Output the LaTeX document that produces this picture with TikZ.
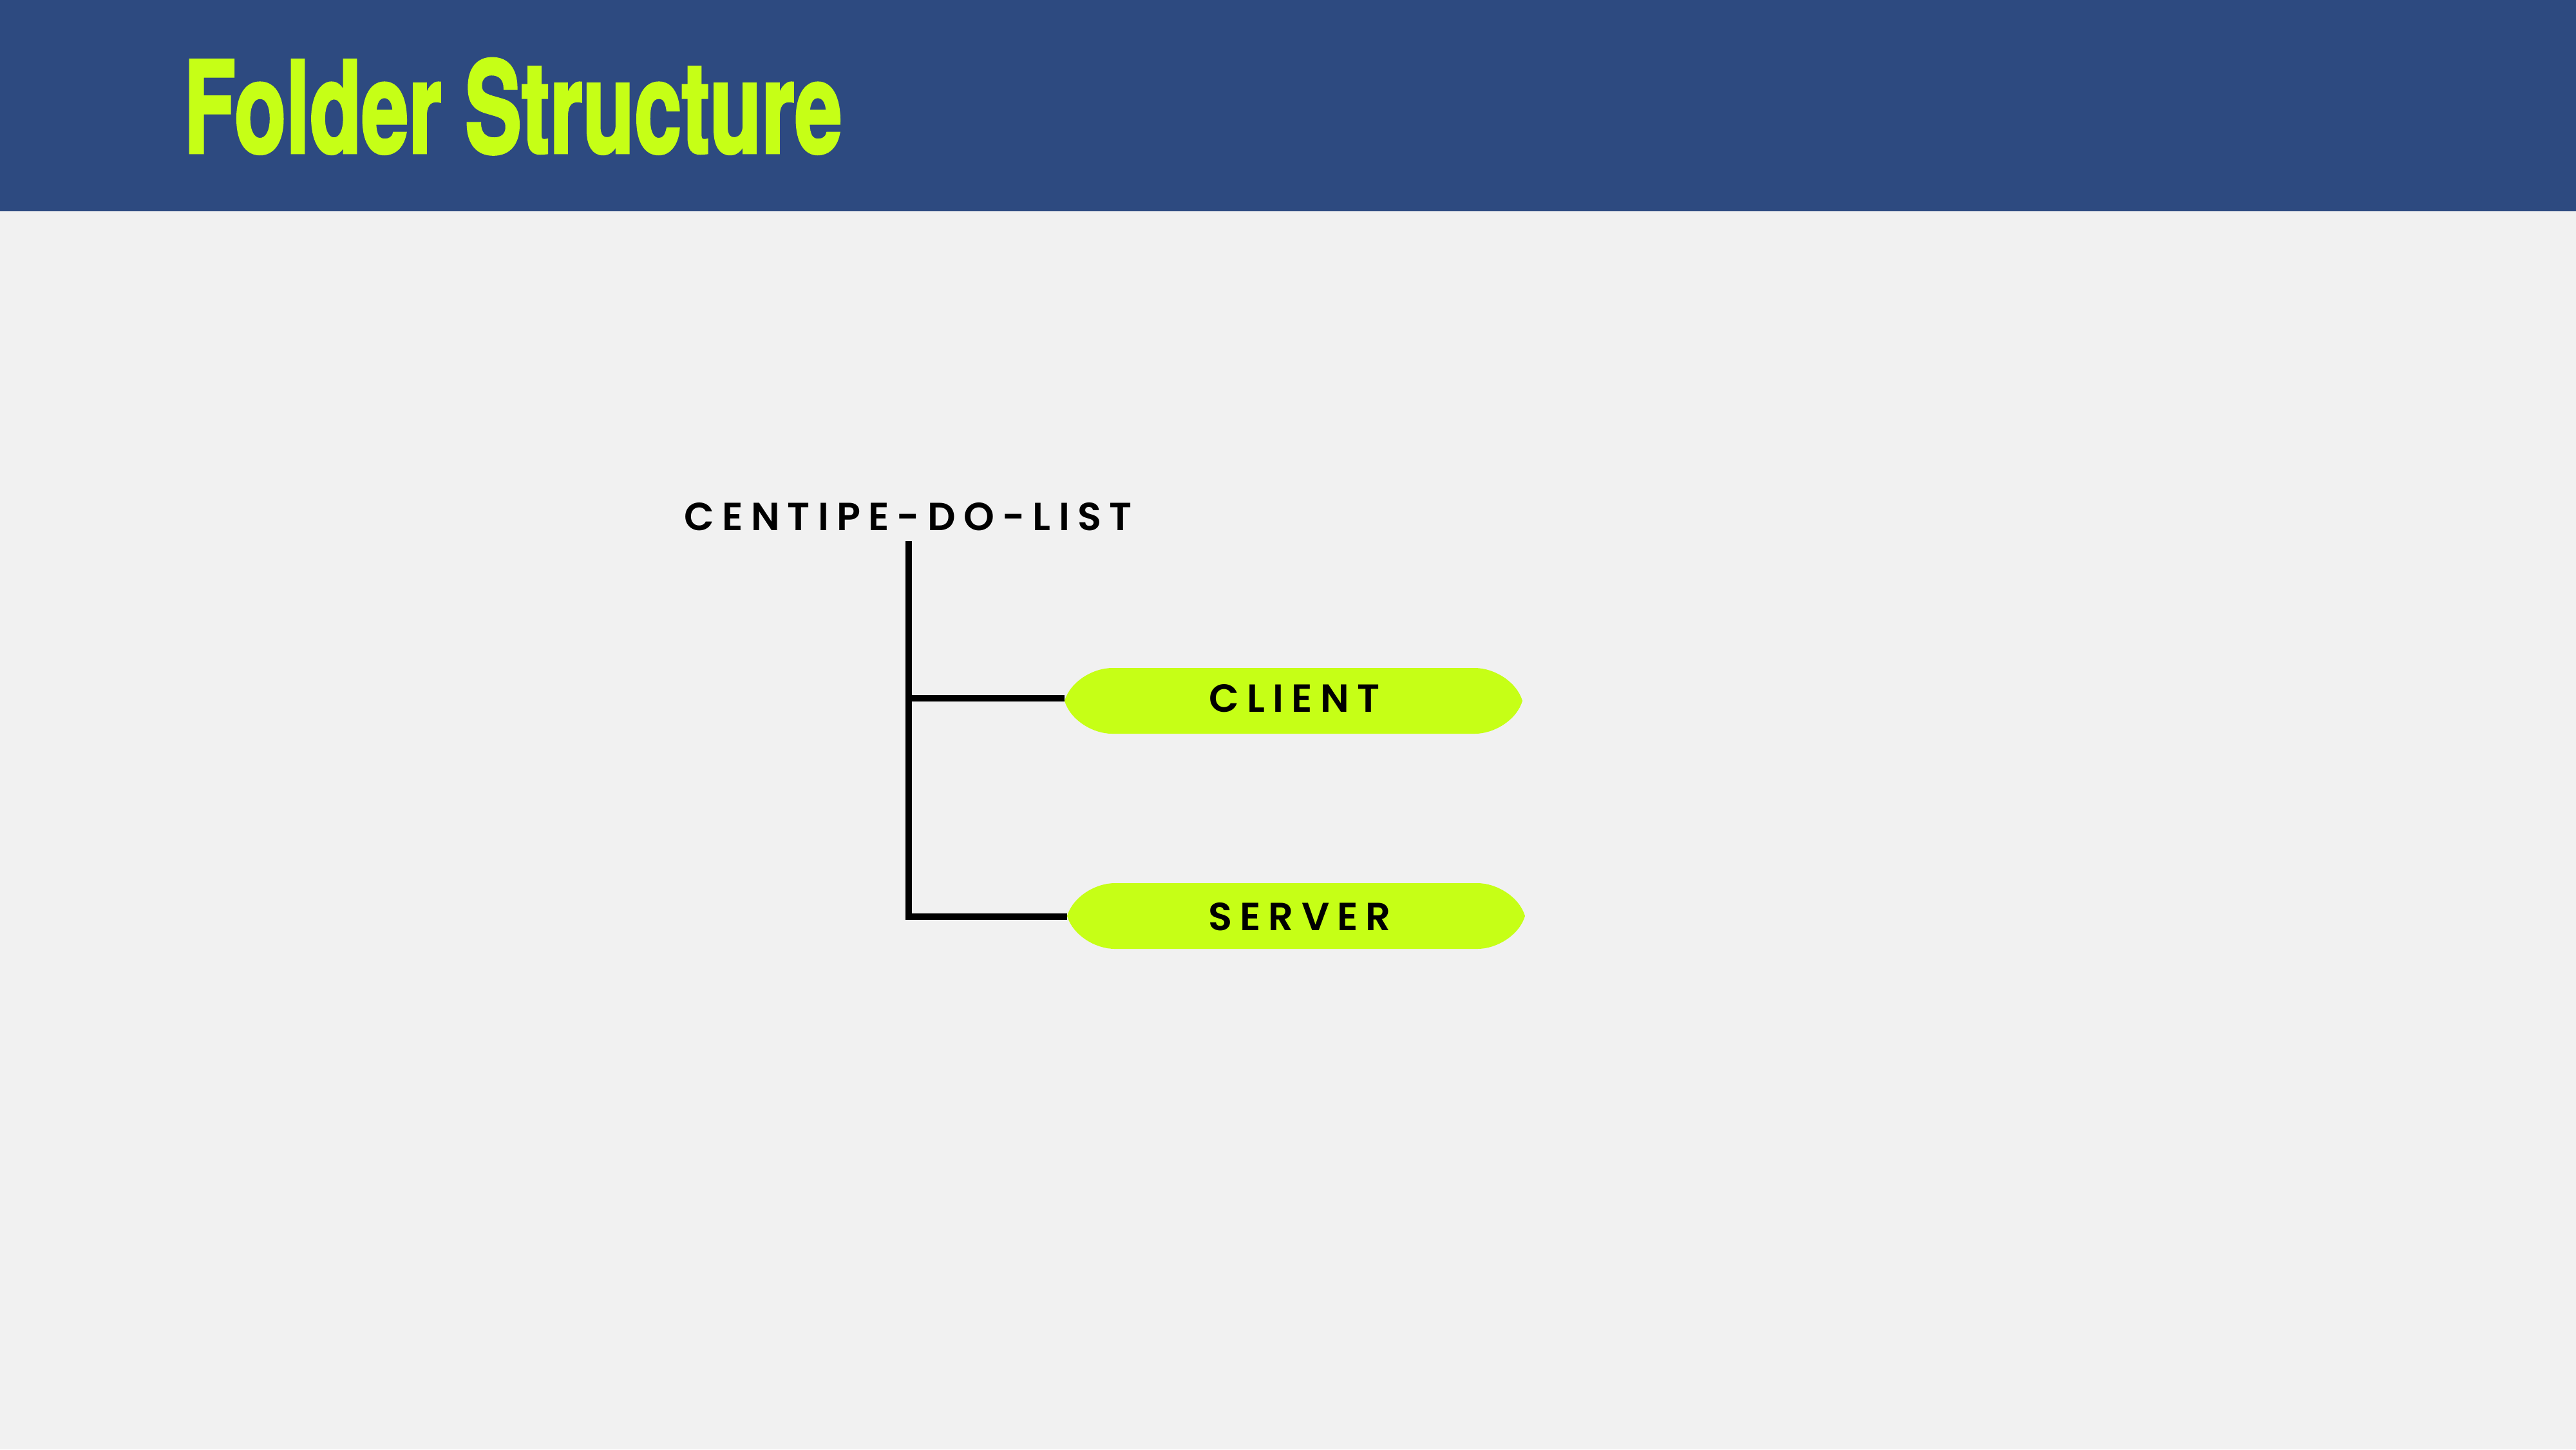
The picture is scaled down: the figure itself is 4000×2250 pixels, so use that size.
\documentclass[tikz,border=0pt]{standalone}
\usepackage{fontspec}
\usetikzlibrary{calc}
\newfontfamily\titlefont{TeX Gyre Heros}[UprightFont=* Bold, FakeBold=2.5]
\newfontfamily\labelfont{Poppins}[UprightFont=* SemiBold, LetterSpace=20]
\definecolor{headblue}{RGB}{45,74,128}
\definecolor{pilllime}{RGB}{198,255,22}
\definecolor{paper}{RGB}{241,241,241}
\tikzset{
  branch/.style={line width=2.7pt, black},
  labeltext/.style={font=\labelfont\fontsize{17.3}{20}\selectfont, inner sep=0pt},
  pillbox/.style={labeltext, minimum width=201.5pt, minimum height=28.9pt}
}
\begin{document}
\begin{tikzpicture}[x=0.01cm,y=-0.01cm]
%Shape: Background
\fill[paper] (0,0) rectangle (4000,2250);
%Shape: Header band
\fill[headblue] (0,0) rectangle (4000,328);

%Shape: Pill client
\fill[pilllime] (1727,1037) -- (2290,1037) .. controls +(30,0) and +(-9,-30) .. (2364,1088)
  .. controls +(-9,30) and +(30,0) .. (2290,1139) -- (1727,1139)
  .. controls +(-30,0) and +(9,30) .. (1653,1088) .. controls +(9,-30) and +(-30,0) .. cycle;
%Shape: Pill server
\fill[pilllime] (1731,1371) -- (2294,1371) .. controls +(30,0) and +(-9,-30) .. (2368,1422)
  .. controls +(-9,30) and +(30,0) .. (2294,1473) -- (1731,1473)
  .. controls +(-30,0) and +(9,30) .. (1657,1422) .. controls +(9,-30) and +(-30,0) .. cycle;

% Text Node
\node[anchor=base west, inner sep=0pt, text=pilllime, xscale=0.668,
  font=\titlefont\fontsize{56}{58}\selectfont] (title) at (285,237) {Folder Structure};
% Text Node
\node[labeltext, anchor=base] (root) at (1410,823) {CENTIPE-DO-LIST};
% Text Node
\node[pillbox] (client) at (2010,1084) {CLIENT};
% Text Node
\node[pillbox] (server) at (2018,1423) {SERVER};

%Straight Lines
\coordinate (trunk) at (1411,840);
\coordinate (bend) at (1411,1423);
\draw[branch] (trunk) -- (bend) -- (server.west -| 1657,0);
\draw[branch] (trunk |- client.west) -- (1653,1084);
\end{tikzpicture}
\end{document}
